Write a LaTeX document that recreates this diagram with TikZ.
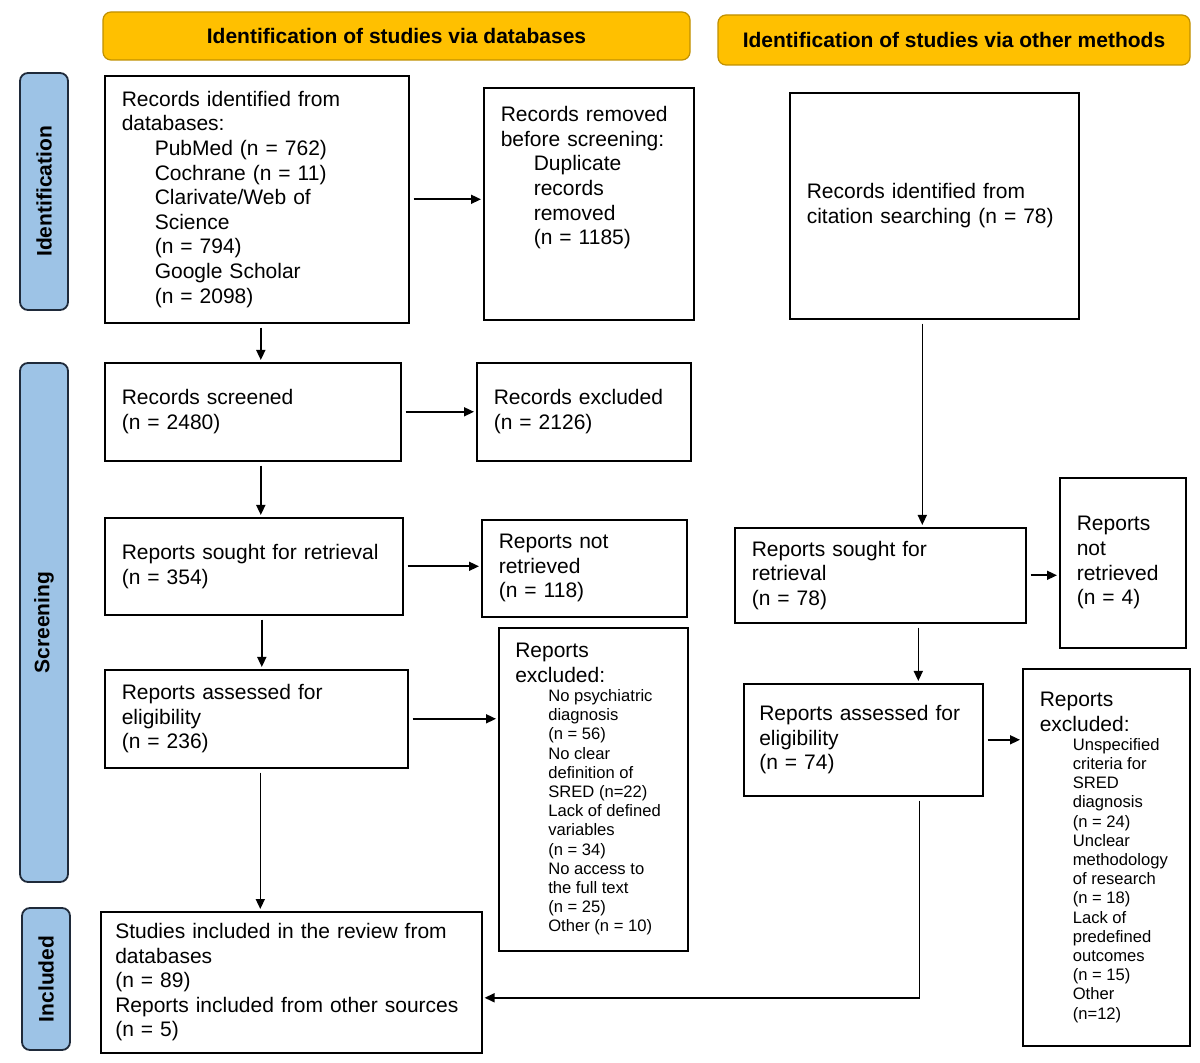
\documentclass[tikz,border=0pt]{standalone}
\usepackage{fontspec}
\setmainfont{Liberation Sans}
\usetikzlibrary{arrows.meta}
\definecolor{headgold}{HTML}{FFC000}
\definecolor{headedge}{HTML}{C09000}
\definecolor{stageblue}{HTML}{9DC3E6}
\definecolor{stageedge}{HTML}{1F2A3A}
\newcommand\bigtxt{\fontsize{10.5}{12.3}\selectfont}
\newcommand\smalltxt{\fontsize{8.3}{9.6}\selectfont\spaceskip=0pt\xspaceskip=0pt}
\newcommand\ind{\hspace*{16.5pt}}
\begin{document}
\begin{tikzpicture}[x=0.5pt,y=-0.5pt,
  box/.style={draw,line width=0.8pt,anchor=north west,inner sep=0pt,align=left,font=\bigtxt},
  head/.style={draw=headedge,fill=headgold,rounded corners=4pt,line width=0.6pt,font=\bigtxt\bfseries,inner sep=0pt},
  stage/.style={draw=stageedge,fill=stageblue,rounded corners=4pt,line width=0.9pt,rotate=90,font=\bigtxt\bfseries,inner sep=0pt},
  flow/.style={-{Triangle[length=5pt,width=4.5pt]},line width=0.8pt,shorten <=2pt,shorten >=1pt}]
\useasboundingbox (0,0) rectangle (1200,1063);
% headers
\node[head,minimum width=293.5pt,minimum height=24pt] (dbhead) at (396.5,36) {Identification of studies via databases};
\node[head,minimum width=236pt,minimum height=25pt] (othhead) at (954,40) {Identification of studies via other methods};
% stages
\node[stage,minimum width=118.5pt,minimum height=24pt] (ident) at (44,191.5) {Identification};
\node[stage,minimum width=259.5pt,minimum height=24pt] (screen) at (44,622.5) {Screening};
\node[stage,minimum width=71pt,minimum height=24pt] (incl) at (46,979) {Included};
% databases
\node[box,minimum width=152pt,minimum height=123.5pt,text width=135pt] (recid) at (104,75)
  {Records identified from\\databases:\\\ind PubMed (n = 762)\\\ind Cochrane (n = 11)\\\ind Clarivate/Web of\\\ind Science\\\ind (n = 794)\\\ind Google Scholar\\\ind (n = 2098)};
\node[box,minimum width=105pt,minimum height=116pt,text width=88pt] (removed) at (483,87)
  {Records removed\\before screening:\\\ind Duplicate\\\ind records\\\ind removed\\\ind (n = 1185)\par\vspace{16pt}\mbox{}};
\node[box,minimum width=148pt,minimum height=49pt,text width=131pt] (screened) at (104,362)
  {Records screened\\(n = 2480)};
\node[box,minimum width=107pt,minimum height=49pt,text width=90pt] (excluded) at (476,362)
  {Records excluded\\(n = 2126)};
\node[box,minimum width=149pt,minimum height=48.5pt,text width=132pt] (sought) at (104,517)
  {Reports sought for retrieval\\(n = 354)};
\node[box,minimum width=102.5pt,minimum height=48.5pt,text width=85.5pt] (notretr) at (481,519)
  {Reports not\\retrieved\\(n = 118)};
\node[box,minimum width=151.5pt,minimum height=49pt,text width=134.5pt] (assessed) at (104,669)
  {Reports assessed for\\eligibility\\(n = 236)};
\node[box,minimum width=94.5pt,minimum height=161.5pt,text width=78pt] (repexcl) at (498,627)
  {Reports\\excluded:\par\smalltxt\ind No psychiatric\\\ind diagnosis\\\ind (n = 56)\\\ind No clear\\\ind definition of\\\ind SRED (n=22)\\\ind Lack of defined\\\ind variables\\\ind (n = 34)\\\ind No access to\\\ind the full text\\\ind (n = 25)\\\ind Other (n = 10)\par};
\node[box,minimum width=190.5pt,minimum height=70.5pt,text width=176pt] (included) at (100,911)
  {Studies included in the review from\\databases\\(n = 89)\\Reports included from other sources\\(n = 5)};
% other methods
\node[box,minimum width=144.5pt,minimum height=113pt,text width=127.5pt] (citation) at (789,92)
  {Records identified from\\citation searching (n = 78)};
\node[box,minimum width=145.5pt,minimum height=47.5pt,text width=128.5pt] (othsought) at (734,527)
  {Reports sought for\\retrieval\\(n = 78)};
\node[box,minimum width=63pt,minimum height=85pt,text width=46pt] (othnotretr) at (1059,477)
  {Reports\\not\\retrieved\\(n = 4)};
\node[box,minimum width=119.5pt,minimum height=56pt,text width=104pt] (othassessed) at (743,683)
  {Reports assessed for\\eligibility\\(n = 74)};
\node[box,minimum width=83.5pt,minimum height=188.5pt,text width=66.5pt] (othexcl) at (1022,668)
  {Reports\\excluded:\par\smalltxt\ind Unspecified\\\ind criteria for\\\ind SRED\\\ind diagnosis\\\ind (n = 24)\\\ind Unclear\\\ind methodology\\\ind of research\\\ind (n = 18)\\\ind Lack of\\\ind predefined\\\ind outcomes\\\ind (n = 15)\\\ind Other\\\ind (n=12)\par};
% arrows
\draw[flow] (recid.east) -- (recid.east -| removed.west);
\draw[flow] ([xshift=2pt]recid.south) -- ([xshift=2pt]recid.south |- screened.north);
\draw[flow] (screened.east) -- (screened.east -| excluded.west);
\draw[flow] ([xshift=4pt]screened.south) -- ([xshift=4pt]screened.south |- sought.north);
\draw[flow] (sought.east) -- (sought.east -| notretr.west);
\draw[flow] ([xshift=4pt]sought.south) -- ([xshift=4pt]sought.south |- assessed.north);
\draw[flow] (assessed.east) -- (assessed.east -| repexcl.west);
\draw[flow] ([xshift=2pt]assessed.south) -- ([xshift=2pt]assessed.south |- included.north);
\draw[flow] ([xshift=-6pt]citation.south) -- ([xshift=-6pt]citation.south |- othsought.north);
\draw[flow] (othsought.east) -- (othsought.east -| othnotretr.west);
\draw[flow] ([xshift=19pt]othsought.south) -- ([xshift=19pt]othsought.south |- othassessed.north);
\draw[flow] (othassessed.east) -- (othassessed.east -| othexcl.west);
\draw[flow] ([xshift=28pt]othassessed.south) |- ([yshift=-7.75pt]included.east);
\end{tikzpicture}
\end{document}
